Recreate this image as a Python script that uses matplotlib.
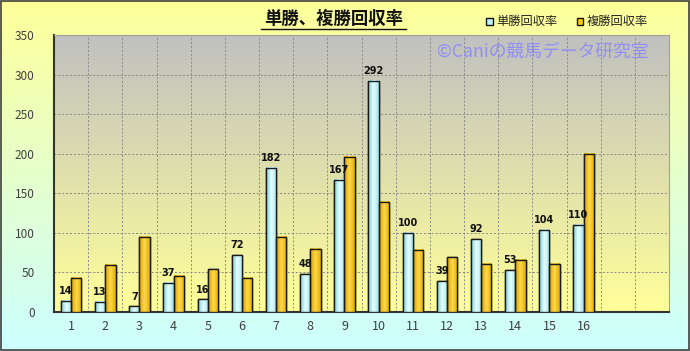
import numpy as np
import matplotlib
matplotlib.use("Agg")
import matplotlib.pyplot as plt
from matplotlib.colors import LinearSegmentedColormap
from matplotlib.patches import Rectangle

plt.rcParams['font.family'] = ['Noto Sans CJK JP', 'DejaVu Sans']

# data
races = list(range(1, 17))
tansho = [14, 13, 7, 37, 16, 72, 182, 48, 167, 292, 100, 39, 92, 53, 104, 110]
fukusho = [43, 60, 95, 46, 54, 43, 95, 80, 196, 139, 79, 69, 61, 66, 61, 200]
n_slots = 18

fig = plt.figure(figsize=(6.9, 3.51), dpi=100)

# figure background gradient (yellow -> light cyan)
bg = fig.add_axes([0, 0, 1, 1], zorder=-10)
bg_cmap = LinearSegmentedColormap.from_list("bg", ["#ccffff", "#ffff99"])
bg.imshow(np.linspace(0, 1, 256).reshape(-1, 1), cmap=bg_cmap, aspect="auto",
          origin="lower", extent=[0, 1, 0, 1])
bg.set_xlim(0, 1)
bg.set_ylim(0, 1)
bg.axis("off")
fig.patches.append(Rectangle((0.001, 0.002), 0.997, 0.995, transform=fig.transFigure,
                             fill=False, edgecolor="#404040", linewidth=1.2))

ax = fig.add_axes([0.0783, 0.111, 0.8913, 0.7893])
ax.set_facecolor("none")

# plot area gradient (gray top -> yellow bottom)
pa_cmap = LinearSegmentedColormap.from_list("pa", ["#ffff99", "#c0c0c0"])
ax.imshow(np.linspace(0, 1, 256).reshape(-1, 1), cmap=pa_cmap, aspect="auto",
          origin="lower", extent=[0, 1, 0, 1], transform=ax.transAxes, zorder=0)

x = np.array(races)
w = 0.3
b1 = ax.bar(x - w / 2, tansho, width=w, color="#bff3f8", edgecolor="#1a1a1a",
            linewidth=1.0, zorder=3)
b2 = ax.bar(x + w / 2, fukusho, width=w, color="#ffcc00", edgecolor="#1a1a1a",
            linewidth=1.0, zorder=3)

# horizontal shading inside bars
cyan_cmap = LinearSegmentedColormap.from_list("cy", ["#7fcdd6", "#e6ffff", "#9fe2ea"])
gold_cmap = LinearSegmentedColormap.from_list("gd", ["#d49e00", "#ffd84a", "#e0ad00"])
grad = np.linspace(0, 1, 64).reshape(1, -1)
for bars, cm in ((b1, cyan_cmap), (b2, gold_cmap)):
    for r in bars:
        x0, y0 = r.get_x(), r.get_y()
        ax.imshow(grad, cmap=cm, aspect="auto",
                  extent=[x0, x0 + r.get_width(), y0, y0 + r.get_height()],
                  zorder=3.5)
        ax.add_patch(Rectangle((x0, y0), r.get_width(), r.get_height(), fill=False,
                               edgecolor="#1a1a1a", linewidth=1.0, zorder=4))

for xi, v in zip(x, tansho):
    ax.text(xi - w / 2, v + 6, str(v), ha="center", va="bottom", fontsize=7,
            fontweight="bold", color="#111111", zorder=5, family="DejaVu Sans")

ax.set_xlim(0.5, n_slots + 0.5)
ax.set_ylim(0, 350)
ax.set_yticks(range(0, 351, 50))
ax.set_xticks(races)
ax.set_xticks(np.arange(0.5, n_slots + 0.6, 1), minor=True)
ax.tick_params(axis="x", which="both", length=0, pad=6, labelsize=9, labelcolor="#404040")
ax.tick_params(axis="y", length=0, pad=14, labelsize=8.5, labelcolor="#404040")
ax.grid(True, which="minor", axis="x", linestyle=(0, (2, 2)), color="#888888", linewidth=0.7, zorder=1)
ax.grid(True, which="major", axis="y", linestyle=(0, (2, 2)), color="#888888", linewidth=0.7, zorder=1)
ax.set_axisbelow(True)
for s in ("top", "right"):
    ax.spines[s].set_color("#a0a0a0")
for s in ("left", "bottom"):
    ax.spines[s].set_color("#333333")
    ax.spines[s].set_linewidth(1.5)

ax.text(0.455, 1.058, "単勝、複勝回収率", transform=ax.transAxes, ha="center", va="center",
        fontsize=12.5, fontweight="bold", color="#111111")
ax.plot([0.337, 0.573], [1.022, 1.022], transform=ax.transAxes, color="#111111",
        linewidth=1.0, clip_on=False)

ax.text(0.966, 0.94, "©Caniの競馬データ研究室", transform=ax.transAxes, ha="right",
        va="center", fontsize=12.8, color="#8f8ff5", zorder=6)

# legend
for lx, col, lab in ((0.705, "#bff3f8", "単勝回収率"), (0.836, "#ffcc00", "複勝回収率")):
    fig.patches.append(Rectangle((lx, 0.93), 0.009, 0.018, transform=fig.transFigure,
                                 facecolor=col, edgecolor="#111111", linewidth=1.0))
    fig.text(lx + 0.014, 0.939, lab, ha="left", va="center", fontsize=8.8, color="#222222")

fig.savefig("out.png", dpi=100)
